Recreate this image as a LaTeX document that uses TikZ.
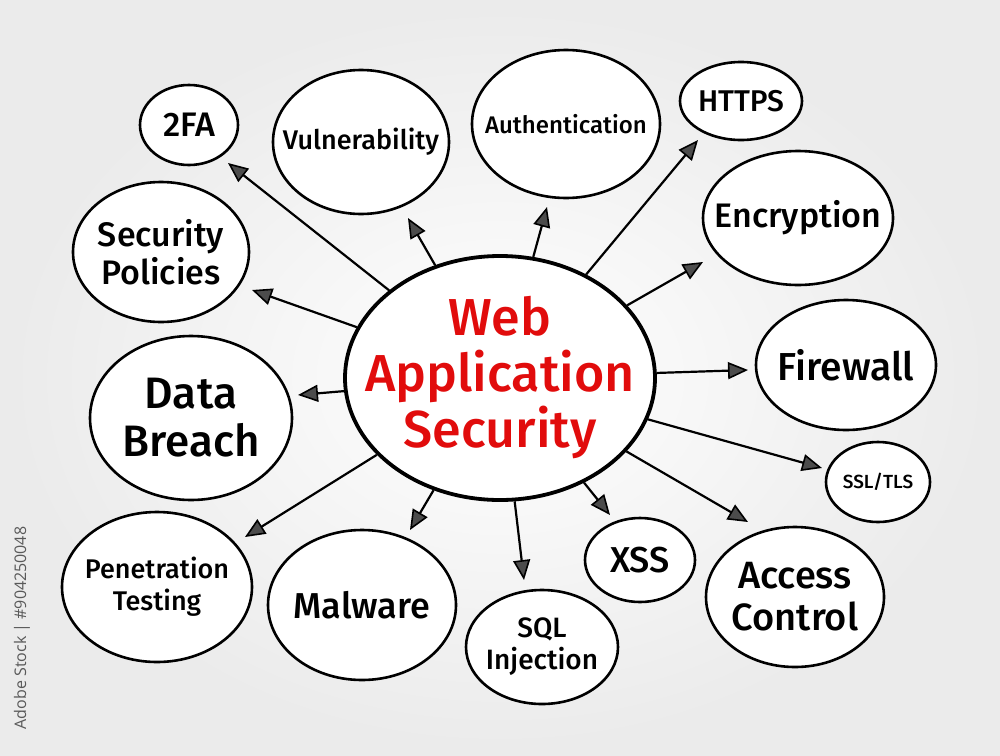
\documentclass[tikz,border=0pt]{standalone}
\usepackage{fontspec}
\setmainfont{Fira Sans}[UprightFont=* Medium]
\newfontfamily\wmfont{Open Sans}
\definecolor{hubred}{RGB}{225,12,12}
\usetikzlibrary{shapes.geometric,arrows.meta}
\begin{document}
\begin{tikzpicture}[x=1pt,y=-1pt,
  bub/.style={draw=black, line width=2.6pt, ellipse, inner sep=0pt, fill=white},
  hub/.style={draw=black, line width=3.8pt, ellipse, inner sep=0pt, fill=white},
  lbl/.style={align=center, text=black, inner sep=0pt},
  hlbl/.style={align=center, text=hubred, inner sep=0pt},
  arr/.style={draw=black, line width=2.2pt, -{Triangle[length=20pt,width=17pt,fill=black!70,line width=1.6pt]}}]
\useasboundingbox (0,0) rectangle (1000,755);
\shade[inner color=white, outer color=black!8] (0,0) rectangle (1000,755);
\node[rotate=90, text=black!65, font=\wmfont\fontsize{16}{18}\selectfont] (wm) at (22,628) {Adobe Stock | \#904250048};

\node[hub, minimum width=310pt, minimum height=244pt] (c) at (500,378) {};
\node[hlbl, font=\fontsize{52}{56}\selectfont] (ct) at (c) {Web\\Application\\Security};

\node[bub, minimum width=98pt, minimum height=80pt] (n2fa) at (189,125) {};
\node[lbl, font=\fontsize{34}{36}\selectfont] (n2fat) at (n2fa) {2FA};
\node[bub, minimum width=176pt, minimum height=144pt] (vul) at (361,142) {};
\node[lbl, font=\fontsize{27}{30}\selectfont] (vult) at (vul) {Vulnerability};
\node[bub, minimum width=188pt, minimum height=148pt] (auth) at (566,124) {};
\node[lbl, font=\fontsize{24}{27}\selectfont] (autht) at (auth) {Authentication};
\node[bub, minimum width=122pt, minimum height=78pt] (https) at (741,101) {};
\node[lbl, font=\fontsize{30}{32}\selectfont] (httpst) at (https) {HTTPS};
\node[bub, minimum width=190pt, minimum height=134pt] (enc) at (798,218) {};
\node[lbl, font=\fontsize{34}{37}\selectfont] (enct) at (enc) {Encryption};
\node[bub, minimum width=176pt, minimum height=140pt] (pol) at (161,252) {};
\node[lbl, font=\fontsize{34}{38}\selectfont] (polt) at (pol) {Security\\Policies};
\node[bub, minimum width=202pt, minimum height=164pt] (data) at (191,418) {};
\node[lbl, font=\fontsize{44}{48}\selectfont] (datat) at (data) {Data\\Breach};
\node[bub, minimum width=180pt, minimum height=130pt] (fw) at (846,365) {};
\node[lbl, font=\fontsize{39}{42}\selectfont] (fwt) at (fw) {Firewall};
\node[bub, minimum width=104pt, minimum height=80pt] (ssl) at (878,482) {};
\node[lbl, font=\fontsize{19}{21}\selectfont] (sslt) at (ssl) {SSL/TLS};
\node[bub, minimum width=190pt, minimum height=150pt] (pen) at (157,587) {};
\node[lbl, font=\fontsize{27}{32}\selectfont] (pent) at (pen) {Penetration\\Testing};
\node[bub, minimum width=188pt, minimum height=150pt] (mal) at (362,605) {};
\node[lbl, font=\fontsize{36}{38}\selectfont] (malt) at (mal) {Malware};
\node[bub, minimum width=152pt, minimum height=114pt] (sql) at (542,647) {};
\node[lbl, font=\fontsize{28}{32}\selectfont] (sqlt) at (sql) {SQL\\Injection};
\node[bub, minimum width=110pt, minimum height=84pt] (xss) at (640,560) {};
\node[lbl, font=\fontsize{36}{38}\selectfont] (xsst) at (xss) {XSS};
\node[bub, minimum width=178pt, minimum height=140pt] (acc) at (795,597) {};
\node[lbl, font=\fontsize{38}{42}\selectfont] (acct) at (acc) {Access\\Control};

\coordinate (t2fa) at (228,163);
\coordinate (tpol) at (252,290);
\coordinate (tvul) at (408,218);
\coordinate (tauth) at (547,207);
\coordinate (thttps) at (698,140);
\coordinate (tenc) at (703,262);
\coordinate (tfw) at (748,370);
\coordinate (tssl) at (822,468);
\coordinate (tacc) at (748,522);
\coordinate (txss) at (610,515);
\coordinate (tsql) at (524,580);
\coordinate (tmal) at (410,530);
\coordinate (tpen) at (245,537);
\coordinate (tdata) at (298,395);

\foreach \t in {t2fa,tpol,tvul,tauth,thttps,tenc,tfw,tssl,tacc,txss,tsql,tmal,tpen,tdata}
  \draw[arr] (c) -- (\t);
\end{tikzpicture}
\end{document}
